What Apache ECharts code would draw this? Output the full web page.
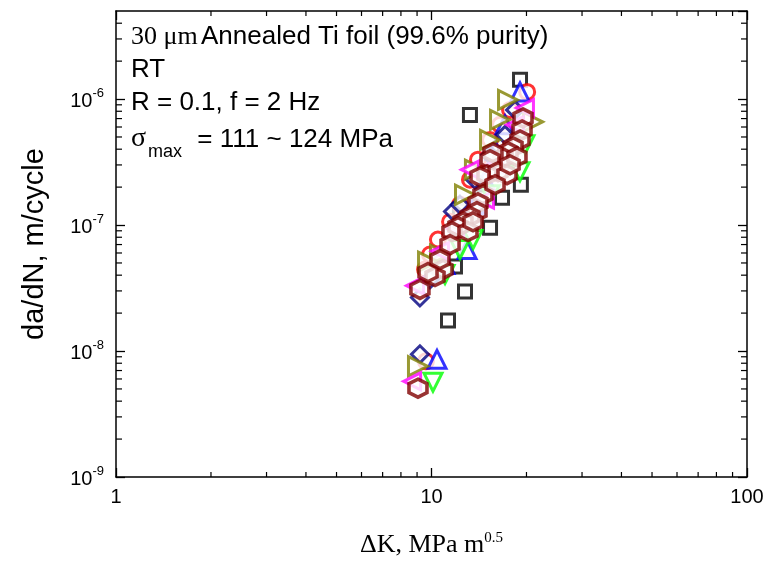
<!DOCTYPE html>
<html><head><meta charset="utf-8">
<script src="https://cdn.jsdelivr.net/npm/echarts@6/dist/echarts.min.js"></script>
<style>html,body{margin:0;padding:0;background:#fff}#c{width:767px;height:563px}</style>
</head><body><div id="c"></div>
<script>
// ---- axis ranges / ticks ----
const xRange = [1, 100];
const yRange = [1e-9, 5e-6];
const xMinor = [2,3,4,5,6,7,8,9,20,30,40,50,60,70,80,90];
const yMinor = [2e-9,3e-9,4e-9,5e-9,6e-9,7e-9,8e-9,9e-9,
                2e-8,3e-8,4e-8,5e-8,6e-8,7e-8,8e-8,9e-8,
                2e-7,3e-7,4e-7,5e-7,6e-7,7e-7,8e-7,9e-7,
                2e-6,3e-6,4e-6];

// ---- data: [ΔK (MPa m^0.5), da/dN (m/cycle)] ----
const blackSquares = [[19.08,1.42e-6],[13.24,7.48e-7],[19.2,2.09e-7],[16.73,1.65e-7],[15.33,9.5e-8],
  [11.87,4.69e-8],[12.77,2.97e-8],[11.28,1.75e-8],[12.3,1.3e-7],[14.5,2.1e-7]];
const redCircles = [[20.1,1.14e-6],[17.74,8.2e-7],[16.49,6.24e-7],[15.33,4.74e-7],[14.04,3.3e-7],
  [13.24,2.29e-7],[12.31,1.45e-7],[11.45,1.06e-7],[10.48,7.66e-8],[9.89,5.83e-8],[9.54,4.44e-8],[9.6,8.28e-9]];
const blueTriangles = [[19.08,1.14e-6],[17.1,6.24e-7],[15.9,3.95e-7],[14.78,2.29e-7],[13.73,1.45e-7],
  [12.96,6.39e-8],[11.04,4.86e-8],[10.41,8.59e-9]];
const navyDiamonds = [[9.19,2.66e-8],[9.89,3.7e-8],[10.64,5.13e-8],[11.7,1.28e-7],[12.31,1.45e-7],
  [13.73,2.29e-7],[15.33,3.61e-7],[17.1,5.2e-7],[18.4,8.2e-7],[9.19,9.42e-9]];
const oliveTriangles = [[17.48,9.84e-7],[16.49,6.84e-7],[20.98,6.59e-7],[15.33,4.74e-7],[13.73,2.75e-7],
  [12.77,1.74e-7],[10.64,5.83e-8],[9.75,5.13e-8],[9.06,7.57e-9]];
const greenTriangles = [[19.78,4.33e-7],[19.08,2.65e-7],[17.1,3.01e-7],[15.33,1.74e-7],[13.54,7.66e-8],
  [12.31,6.39e-8],[11.04,4.05e-8],[10.11,5.65e-9]];
const magentaTriangles = [[19.78,8.5e-7],[18.4,6.24e-7],[15.9,3.01e-7],[13.24,2.75e-7],[14.78,1.59e-7],
  [11.87,9.53e-8],[10.64,6.2e-8],[8.87,3.3e-8],[8.68,5.75e-9]];
const maroonHexagons = [[19.5,7.08e-7],[19.36,5.69e-7],[19.08,4.74e-7],[18.13,4.18e-7],[17.48,3.81e-7],
  [16.85,3.42e-7],[18.66,3.48e-7],[15.66,3.75e-7],[15.33,3.3e-7],[14.99,2.51e-7],[16.25,2.65e-7],
  [17.35,2.51e-7],[14.25,2.42e-7],[14.56,1.74e-7],[14.04,1.5e-7],[13.94,1.28e-7],[13.24,1.17e-7],
  [12.58,1.06e-7],[12.13,9.71e-8],[11.61,8.87e-8],[13.05,8.87e-8],[13.54,1.06e-7],[11.45,7.0e-8],
  [10.88,4.44e-8],[10.26,3.9e-8],[9.75,4.2e-8],[9.19,3.08e-8],[17.74,3.01e-7],[15.9,2.09e-7],
  [10.64,5.32e-8],[9.06,5.07e-9]];

const HEX = 'path://M0,-1L0.866,-0.5L0.866,0.5L0,1L-0.866,0.5L-0.866,-0.5Z';
const SANS = 'Liberation Sans, Arial, sans-serif';
const SERIF = 'Liberation Serif, Times New Roman, serif';

function sc(name, data, color, symbol, size, rotate, bw) {
  return {
    name, type: 'scatter', data, symbol, symbolSize: size, symbolRotate: rotate || 0,
    itemStyle: { color: '#fff', borderColor: color, borderWidth: bw || 3 },
    emphasis: { disabled: true }, silent: true
  };
}

const axisCommon = {
  axisLine: { show: true, onZero: false, lineStyle: { color: '#000', width: 1.5 } },
  axisTick: { show: true, inside: true, length: 9, lineStyle: { color: '#000', width: 1.3 } },
  splitLine: { show: false },
  minorTick: { show: false }
};

const chart = echarts.init(document.getElementById('c'), null, { renderer: 'canvas' });
chart.setOption({
  animation: false,
  backgroundColor: '#fff',
  grid: { left: 116, right: 20, top: 11, bottom: 85, containLabel: false },
  xAxis: [
    Object.assign({
      type: 'log', logBase: 10, min: xRange[0], max: xRange[1], position: 'bottom',
      name: '{a|ΔK, MPa m}{b|0.5}', nameLocation: 'middle', nameGap: 54,
      nameTextStyle: { rich: {
        a: { fontFamily: SERIF, fontSize: 26, color: '#000', verticalAlign: 'bottom' },
        b: { fontFamily: SERIF, fontSize: 15, color: '#000', verticalAlign: 'bottom', padding: [0, 0, 12, 0] } } },
      axisLabel: { fontFamily: SANS, fontSize: 20, color: '#000', margin: 10 }
    }, axisCommon),
    Object.assign({
      type: 'log', logBase: 10, min: xRange[0], max: xRange[1], position: 'top',
      axisLabel: { show: false }
    }, axisCommon)
  ],
  yAxis: [
    Object.assign({
      type: 'log', logBase: 10, min: yRange[0], max: yRange[1], position: 'left',
      name: 'da/dN, m/cycle', nameLocation: 'middle', nameGap: 67, nameRotate: 90,
      nameTextStyle: { fontFamily: SANS, fontSize: 29, color: '#000' },
      axisLabel: {
        margin: 12, showMaxLabel: false,
        formatter: function (v) {
          const l = Math.log10(v), e = Math.round(l);
          if (Math.abs(l - e) > 1e-6) return '';
          return '{a|10}{b|' + e + '}';
        },
        rich: {
          a: { fontFamily: SANS, fontSize: 20, color: '#000', verticalAlign: 'bottom' },
          b: { fontFamily: SANS, fontSize: 13, color: '#000', verticalAlign: 'bottom', padding: [0, 0, 12, 0] }
        }
      }
    }, axisCommon),
    Object.assign({
      type: 'log', logBase: 10, min: yRange[0], max: yRange[1], position: 'right',
      axisLabel: { show: false }
    }, axisCommon)
  ],
  graphic: [
    { type: 'text', x: 131, y: 37, style: { text: '{s|30 μm} {n|Annealed Ti foil (99.6% purity)}', verticalAlign: 'middle', align: 'left',
      rich: { s: { fontFamily: SERIF, fontSize: 26, fill: '#000' }, n: { fontFamily: SANS, fontSize: 26, fill: '#000' } } } },
    { type: 'text', x: 131, y: 70, style: { text: 'RT', font: '26px ' + SANS, fill: '#000', verticalAlign: 'middle' } },
    { type: 'text', x: 131, y: 103, style: { text: 'R = 0.1, f = 2 Hz', font: '26px ' + SANS, fill: '#000', verticalAlign: 'middle' } },
    { type: 'text', x: 131, y: 143, style: { text: '{g|σ}{m|max}{n| = 111 ~ 124 MPa}', verticalAlign: 'middle', align: 'left',
      rich: { g: { fontFamily: SERIF, fontSize: 28, fill: '#000', verticalAlign: 'bottom', padding: [0, 2, 8, 0] },
              m: { fontFamily: SANS, fontSize: 18, fill: '#000', verticalAlign: 'bottom', padding: [0, 8, 0, 0] },
              n: { fontFamily: SANS, fontSize: 26, fill: '#000', verticalAlign: 'bottom', padding: [0, 0, 8, 0] } } } }
  ],
  series: [
    {
      type: 'custom', coordinateSystem: 'cartesian2d', silent: true, z: 5,
      data: xMinor.map(v => [v, yRange[0]]),
      renderItem: function (params, api) {
        const v = api.value(0);
        const b = api.coord([v, yRange[0]]), t = api.coord([v, yRange[1]]);
        const st = { stroke: '#000', lineWidth: 1.2 };
        return { type: 'group', children: [
          { type: 'line', shape: { x1: b[0], y1: b[1], x2: b[0], y2: b[1] - 5 }, style: st },
          { type: 'line', shape: { x1: t[0], y1: t[1], x2: t[0], y2: t[1] + 5 }, style: st } ] };
      }
    },
    {
      type: 'custom', coordinateSystem: 'cartesian2d', silent: true, z: 5,
      data: yMinor.map(v => [xRange[0], v]),
      renderItem: function (params, api) {
        const v = api.value(1);
        const l = api.coord([xRange[0], v]), r = api.coord([xRange[1], v]);
        const st = { stroke: '#000', lineWidth: 1.2 };
        return { type: 'group', children: [
          { type: 'line', shape: { x1: l[0], y1: l[1], x2: l[0] + 6, y2: l[1] }, style: st },
          { type: 'line', shape: { x1: r[0], y1: r[1], x2: r[0] - 6, y2: r[1] }, style: st } ] };
      }
    },
    sc('black', blackSquares, '#000000', 'rect', 13, 0, 3),
    sc('red', redCircles, '#ff0000', 'circle', 15, 0, 3),
    sc('blue', blueTriangles, '#0000ff', 'triangle', 18, 0, 3),
    sc('navy', navyDiamonds, '#000080', 'diamond', 17, 0, 3),
    sc('olive', oliveTriangles, '#808000', 'triangle', 19, -90, 3),
    sc('green', greenTriangles, '#00ff00', 'triangle', 18, 180, 3),
    sc('magenta', magentaTriangles, '#ff00ff', 'triangle', 17, 90, 3),
    sc('maroon', maroonHexagons, '#800000', HEX, 18, 0, 3.6)
  ]
});
</script></body></html>
